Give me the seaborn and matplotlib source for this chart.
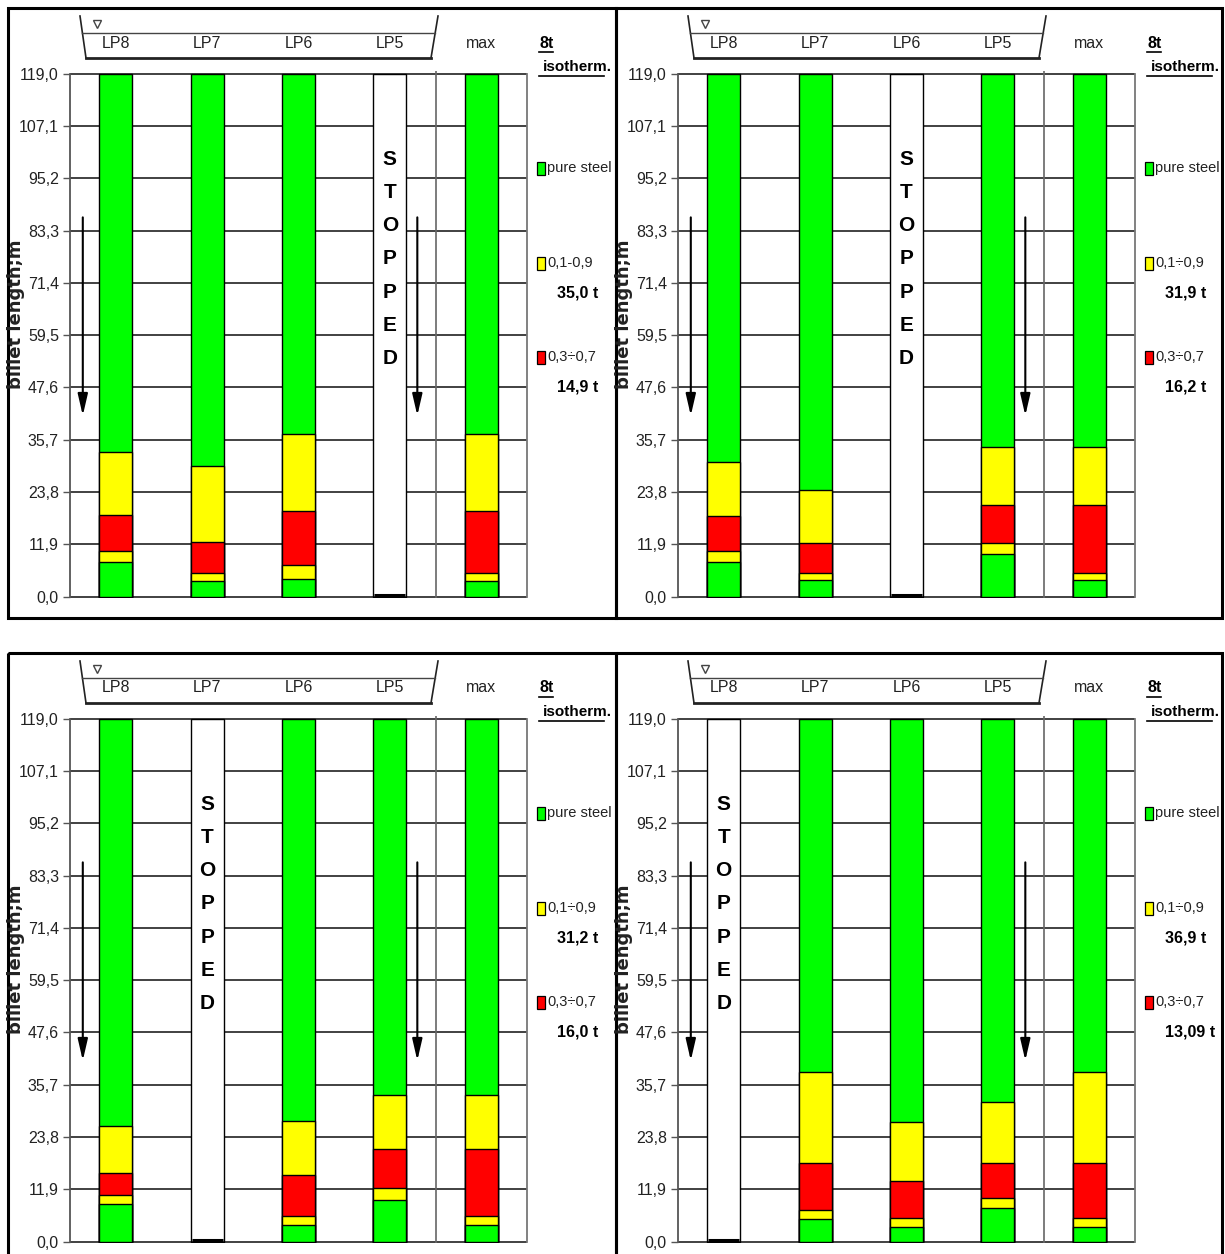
import matplotlib
matplotlib.use('Agg')
import matplotlib.pyplot as plt
from matplotlib import font_manager
from matplotlib.patches import Rectangle
import pandas as pd
import seaborn as sns

# ---- data -------------------------------------------------------------
positions = ['LP8', 'LP7', 'LP6', 'LP5', 'max']
billet_length = 119.0
tick_values = [0.0, 11.9, 23.8, 35.7, 47.6, 59.5, 71.4, 83.3, 95.2, 107.1, 119.0]
tick_labels = ['0,0', '11,9', '23,8', '35,7', '47,6', '59,5',
               '71,4', '83,3', '95,2', '107,1', '119,0']

# cumulative tops of the bands, from the bottom: green, yellow, red, yellow
p1_stopped = 'LP5'
p1_green = [8.0, 3.5, 4.1, 0, 3.5]
p1_yellow = [10.4, 5.3, 7.2, 0, 5.3]
p1_red = [18.5, 12.5, 19.6, 0, 19.6]
p1_yellow_top = [32.9, 29.7, 37.1, 0, 37.1]
p1_bands = ['0,1-0,9', '0,3÷0,7']
p1_tonnes = ['35,0 t', '14,9 t']

p2_stopped = 'LP6'
p2_green = [7.9, 3.8, 0, 9.7, 3.8]
p2_yellow = [10.3, 5.4, 0, 12.1, 5.4]
p2_red = [18.4, 12.1, 0, 20.8, 20.8]
p2_yellow_top = [30.6, 24.2, 0, 34.0, 34.0]
p2_bands = ['0,1÷0,9', '0,3÷0,7']
p2_tonnes = ['31,9 t', '16,2 t']

p3_stopped = 'LP7'
p3_green = [8.5, 0, 3.9, 9.5, 3.9]
p3_yellow = [10.6, 0, 5.9, 12.2, 5.9]
p3_red = [15.6, 0, 15.2, 21.2, 21.2]
p3_yellow_top = [26.4, 0, 27.4, 33.4, 33.4]
p3_bands = ['0,1÷0,9', '0,3÷0,7']
p3_tonnes = ['31,2 t', '16,0 t']

p4_stopped = 'LP8'
p4_green = [0, 5.2, 3.4, 7.7, 3.4]
p4_yellow = [0, 7.2, 5.5, 10.0, 5.5]
p4_red = [0, 17.8, 13.9, 17.8, 17.8]
p4_yellow_top = [0, 38.5, 27.3, 31.8, 38.5]
p4_bands = ['0,1÷0,9', '0,3÷0,7']
p4_tonnes = ['36,9 t', '13,09 t']

GREEN, YELLOW, RED = '#00ff00', '#ffff00', '#ff0000'

# ---- fonts ------------------------------------------------------------
installed = {f.name for f in font_manager.fontManager.ttflist}
if 'Liberation Sans Narrow' in installed:
    NARROW = ['Liberation Sans Narrow', 'DejaVu Sans']
    fs = 13
    fs_leg = 13
else:
    NARROW = ['Liberation Sans', 'DejaVu Sans']
    fs = 11.5
    fs_leg = 10.5

W, H = 1225, 1254
fig = plt.figure(figsize=(W / 100, H / 100), dpi=100)
bg = fig.add_axes([0, 0, 1, 1])
bg.set_xlim(0, W)
bg.set_ylim(H, 0)
bg.axis('off')


def px_rect(x0, y0, x1, y1):
    return [x0 / W, 1 - y1 / H, (x1 - x0) / W, (y1 - y0) / H]


def draw_panel(ox, oy, pw, stopped, green, yellow, red, yellow_top, bands, tonnes):
    # frame
    bg.add_patch(Rectangle((ox, oy), pw, 610, fill=False, ec='black', lw=2.2))

    x0, x1, y0, y1 = ox + 62, ox + 519, oy + 63, oy + 590
    ax = fig.add_axes(px_rect(x0, y0, x1, y1))

    df = pd.DataFrame({'pos': positions,
                       'total': [billet_length] * len(positions),
                       'green': green, 'yellow': yellow,
                       'red': red, 'yellow_top': yellow_top})
    top_colors = {p: ('white' if p == stopped else GREEN) for p in positions}

    kw = dict(data=df, x='pos', width=0.36, edgecolor='black', saturation=1,
              linewidth=1.0, ax=ax, zorder=3)
    sns.barplot(y='total', hue='pos', palette=top_colors, legend=False, **kw)
    sns.barplot(y='yellow_top', color=YELLOW, **kw)
    sns.barplot(y='red', color=RED, **kw)
    sns.barplot(y='yellow', color=YELLOW, **kw)
    sns.barplot(y='green', color=GREEN, **kw)

    for v in tick_values:
        ax.axhline(v, color='#333333', lw=1.3, zorder=1)
    ax.axvline(3.5, color='#666666', lw=1.2, zorder=1)

    si = positions.index(stopped)
    # thin dark base of the empty strand
    ax.plot([si - 0.17, si + 0.17], [0.35, 0.35], color='black', lw=2.2,
            solid_capstyle='butt', zorder=4)

    ax.set_xlim(-0.5, 4.5)
    ax.set_ylim(-0.3, 119.6)
    ax.set_xlabel('')
    ax.set_ylabel('')
    ax.set_xticks([])
    ax.set_yticks(tick_values, tick_labels)
    ax.tick_params(axis='y', length=5, width=1, color='#555555', pad=3,
                   labelsize=fs, labelcolor='#222222')
    for lbl in ax.get_yticklabels():
        lbl.set_fontfamily(NARROW)
    for s in ['top', 'bottom']:
        ax.spines[s].set_visible(False)
    ax.spines['left'].set_color('#555555')
    ax.spines['right'].set_color('#777777')
    for s in ['left', 'right']:
        ax.spines[s].set_linewidth(1.3)
        ax.spines[s].set_bounds(0, 119)

    # flow arrows
    for xa in (-0.36, 3.30):
        ax.annotate('', xy=(xa, 41.2), xytext=(xa, 86.3),
                    arrowprops=dict(arrowstyle='-|>,head_length=1.3,head_width=0.3',
                                    color='black', lw=1.5, mutation_scale=10,
                                    shrinkA=0, shrinkB=0),
                    annotation_clip=False, zorder=6)

    # STOPPED written down the empty strand
    for i, ch in enumerate('STOPPED'):
        ax.text(si, 99.5 - i * 7.55, ch, ha='center', va='center',
                fontsize=15, fontweight='bold', family=NARROW, zorder=6)

    # tundish sketch above the strands
    bg.plot([ox + 72, ox + 78], [oy + 8, oy + 50], color='#222222', lw=1.2)
    bg.plot([ox + 430, ox + 423], [oy + 8, oy + 50], color='#222222', lw=1.2)
    bg.plot([ox + 78, ox + 423], [oy + 50, oy + 50], color='#222222', lw=2.0)
    bg.plot([ox + 74, ox + 427], [oy + 25, oy + 25], color='#444444', lw=1.0)
    bg.plot(ox + 89, oy + 16, marker='v', ms=6, mfc='white', mec='#444444', mew=1)

    step = (x1 - x0) / len(positions)
    for i, p in enumerate(positions):
        bg.text(x0 + (i + 0.5) * step, oy + 35, p, ha='center', va='center',
                fontsize=fs, family=NARROW, color='#222222')

    # legend column
    bg.text(ox + 531, oy + 35, '8t', ha='left', va='center', fontsize=fs,
            fontweight='bold', family=NARROW)
    bg.plot([ox + 531, ox + 545], [oy + 44, oy + 44], color='black', lw=1.2)
    bg.text(ox + 535, oy + 59, 'isotherm.', ha='left', va='center', fontsize=fs - 0.5,
            fontweight='bold', family=NARROW)
    bg.plot([ox + 531, ox + 596], [oy + 68, oy + 68], color='black', lw=1.2)

    items = [(GREEN, 'pure steel', None, 160),
             (YELLOW, bands[0], tonnes[0], 255),
             (RED, bands[1], tonnes[1], 349)]
    for col, name, ton, cy in items:
        bg.add_patch(Rectangle((ox + 529, oy + cy - 6.5), 8, 13, fc=col,
                               ec='black', lw=0.9))
        bg.text(ox + 539, oy + cy, name, ha='left', va='center', fontsize=fs_leg,
                family=NARROW, color='#222222')
        if ton:
            bg.text(ox + 549, oy + cy + 30, ton, ha='left', va='center',
                    fontsize=fs, fontweight='bold', family=NARROW)

    bg.text(ox + 8, oy + 306, 'billet length;m', rotation=90, ha='center',
            va='center', fontsize=13, fontweight='bold', family='DejaVu Sans',
            color='#222222')


draw_panel(8, 8, 608, p1_stopped, p1_green, p1_yellow, p1_red, p1_yellow_top,
           p1_bands, p1_tonnes)
draw_panel(616, 8, 606, p2_stopped, p2_green, p2_yellow, p2_red, p2_yellow_top,
           p2_bands, p2_tonnes)
draw_panel(8, 653, 608, p3_stopped, p3_green, p3_yellow, p3_red, p3_yellow_top,
           p3_bands, p3_tonnes)
draw_panel(616, 653, 606, p4_stopped, p4_green, p4_yellow, p4_red, p4_yellow_top,
           p4_bands, p4_tonnes)

fig.savefig('out.png', dpi=100)
plt.close(fig)
